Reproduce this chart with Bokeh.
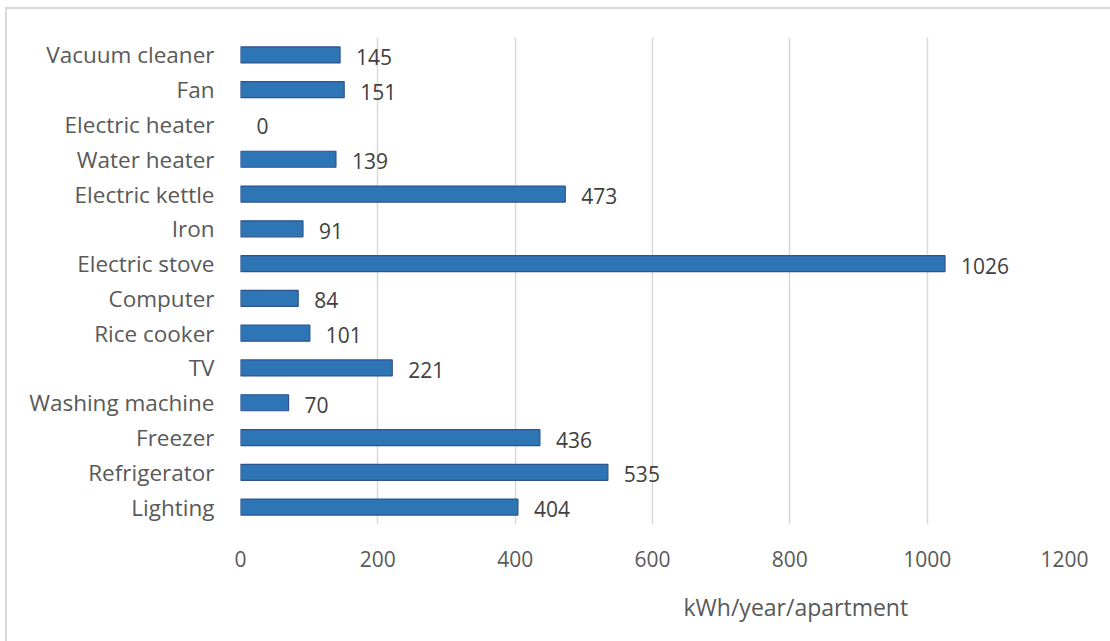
from bokeh.plotting import figure
from bokeh.models import ColumnDataSource, FactorRange, Range1d, Title, FixedTicker
from bokeh.core.properties import value
from bokeh.embed import file_html
from bokeh.resources import INLINE

appliances = ["Lighting", "Refrigerator", "Freezer", "Washing machine", "TV",
              "Rice cooker", "Computer", "Electric stove", "Iron",
              "Electric kettle", "Water heater", "Electric heater", "Fan",
              "Vacuum cleaner"]
consumption = [404, 535, 436, 70, 221, 101, 84, 1026, 91, 473, 139, 0, 151, 145]
x_ticks = [0, 200, 400, 600, 800, 1000, 1200]
unit_label = "kWh/year/apartment"

FONT = "Open Sans"
TEXT_COLOR = "#595959"

src = ColumnDataSource(dict(
    cat=appliances,
    val=consumption,
    txt=[str(v) for v in consumption],
    edge=["#2F528F" if v > 0 else None for v in consumption],
))

p = figure(
    width=1105, height=634,
    y_range=FactorRange(*appliances, range_padding=0),
    x_range=Range1d(0, 1200),
    output_backend="svg", toolbar_location=None,
    min_border_left=233, min_border_right=48,
    min_border_top=28, min_border_bottom=119,
    margin=(7, 0, 0, 5),
    styles={"border-left": "2px solid #d9d9d9", "border-top": "2px solid #d9d9d9"},
)
p.outline_line_color = None
p.background_fill_color = "white"
p.border_fill_color = "white"

p.hbar(y="cat", right="val", left=0, height=0.46, source=src,
       fill_color="#2E75B6", line_color="edge", line_width=1.2)

p.text(x="val", y="cat", text="txt", source=src,
       x_offset=16, y_offset=2, text_baseline="middle", text_align="left",
       text_font=value(FONT), text_font_size="21px", text_color="#404040")

p.xaxis.ticker = FixedTicker(ticks=x_ticks)
p.xgrid.ticker = FixedTicker(ticks=x_ticks)
p.xgrid.grid_line_color = "#d9d9d9"
p.xgrid.grid_line_width = 1.5
p.ygrid.grid_line_color = None

for ax in (p.xaxis, p.yaxis):
    ax.axis_line_color = None
    ax.major_tick_line_color = None
    ax.minor_tick_line_color = None
    ax.major_label_text_font = FONT
    ax.major_label_text_color = TEXT_COLOR

p.xaxis.major_label_text_font_size = "21px"
p.yaxis.major_label_text_font_size = "22.5px"
p.xaxis.major_label_standoff = 20
p.yaxis.major_label_standoff = 20

# unit caption under the value axis, shifted right of the frame's left edge
p.add_layout(Title(
    text=unit_label, align="left", offset=443, standoff=38,
    text_font=FONT, text_font_size="23px", text_font_style="normal",
    text_color=TEXT_COLOR,
), "below")

open("out.html", "w").write(file_html(p, INLINE))
